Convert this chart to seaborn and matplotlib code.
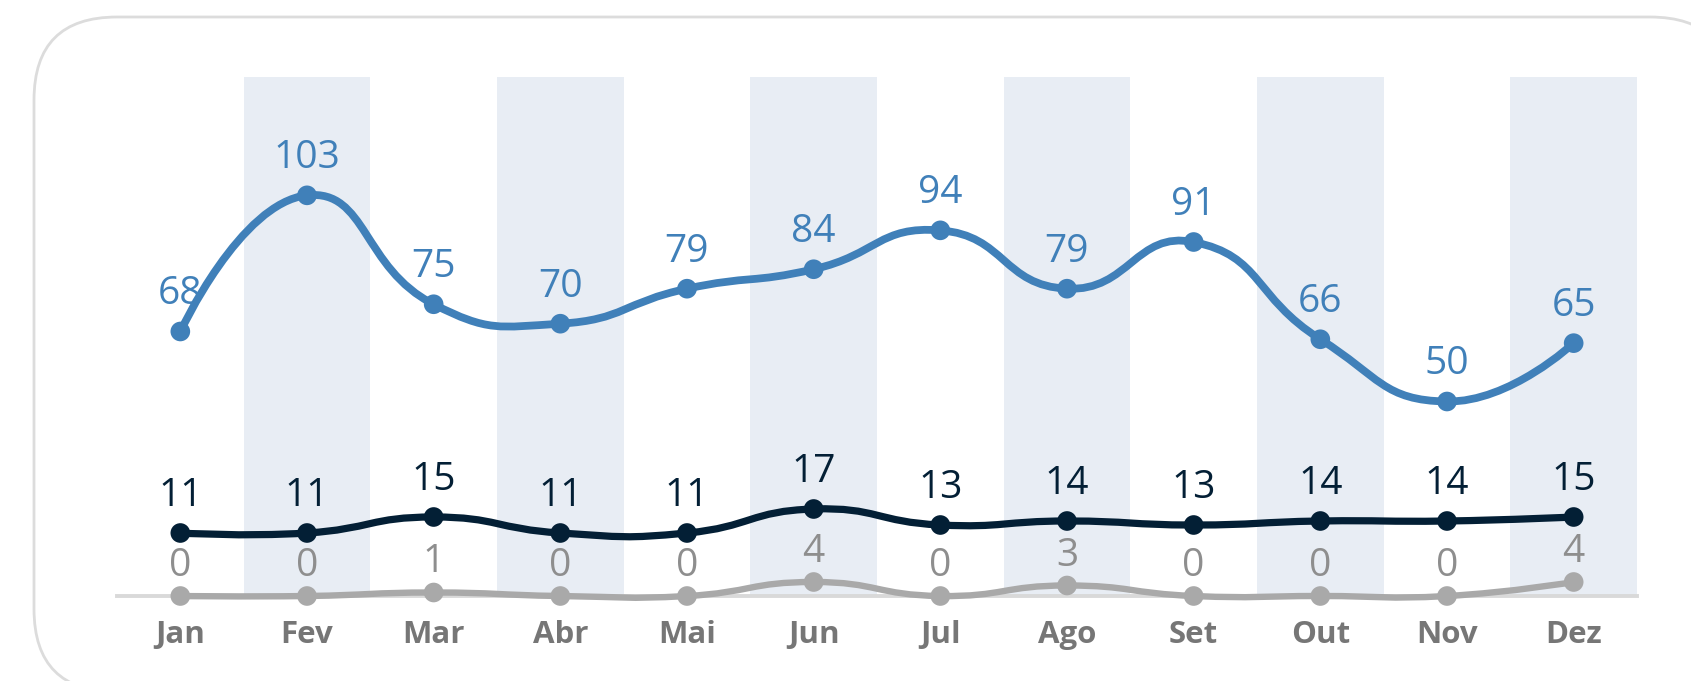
import numpy as np
import matplotlib
matplotlib.use("Agg")
import matplotlib.pyplot as plt
from matplotlib.path import Path
from matplotlib.patches import PathPatch, FancyBboxPatch
import seaborn as sns

# dados mensais
meses = ['Jan', 'Fev', 'Mar', 'Abr', 'Mai', 'Jun', 'Jul', 'Ago', 'Set', 'Out', 'Nov', 'Dez']
serie_azul = [68, 103, 75, 70, 79, 84, 94, 79, 91, 66, 50, 65]
serie_escura = [11, 11, 15, 11, 11, 17, 13, 14, 13, 14, 14, 15]
serie_cinza = [0, 0, 1, 0, 0, 4, 0, 3, 0, 0, 0, 4]

AZUL = '#4080b9'
ESCURO = '#031f35'
CINZA = '#a9a9a9'
CINZA_TXT = '#8e8e8e'
FAIXA = '#e8edf4'

sns.set_style("white")
plt.rcParams['font.family'] = ['Open Sans', 'DejaVu Sans']

W, H = 1691, 681
fig = plt.figure(figsize=(W / 100, H / 100), dpi=100)

# moldura arredondada
bg = fig.add_axes([0, 0, 1, 1])
bg.set_xlim(0, W)
bg.set_ylim(H, 0)
bg.axis('off')
bg.add_patch(FancyBboxPatch((34, 17), 1733 - 34, 692 - 17,
                            boxstyle='round,pad=0,rounding_size=83',
                            fc='white', ec='#dcdcdc', lw=2))

# area do grafico (em pixels)
x0, x1, ytop, ybot = 117, 1637, 77, 596
ax = fig.add_axes([x0 / W, (H - ybot) / H, (x1 - x0) / W, (ybot - ytop) / H])
ax.set_facecolor('none')
pos = np.arange(len(meses))
px_x = (x1 - x0) / len(meses)


def curva_suave(eixo, xs, ys, sy, cor, lw, suav=0.5):
    px = np.asarray(xs, float) * px_x
    py = np.asarray(ys, float) * sy
    n = len(px)
    cps = []
    for i in range(n):
        if i == 0 or i == n - 1:
            cps.append(((px[i], py[i]), (px[i], py[i])))
            continue
        vx = px[i + 1] - px[i - 1]
        vy = py[i + 1] - py[i - 1]
        d0 = np.hypot(px[i] - px[i - 1], py[i] - py[i - 1])
        d1 = np.hypot(px[i + 1] - px[i], py[i + 1] - py[i])
        r = d1 / (d0 + d1)
        antes = (px[i] - vx * suav * (1 - r), py[i] - vy * suav * (1 - r))
        depois = (px[i] + vx * suav * r, py[i] + vy * suav * r)
        cps.append((antes, depois))
    verts = [(px[0], py[0])]
    codes = [Path.MOVETO]
    for i in range(1, n):
        verts += [cps[i - 1][1], cps[i][0], (px[i], py[i])]
        codes += [Path.CURVE4] * 3
    verts = np.array(verts) / [px_x, sy]
    eixo.add_patch(PathPatch(Path(verts, codes), fill=False, ec=cor, lw=lw,
                             capstyle='round', joinstyle='round', clip_on=False, zorder=3))


def serie(eixo, valores, sy, ymin, cor, cor_txt, lw, off):
    altura = ybot - ytop
    eixo.set_ylim(ymin, ymin + altura / sy)
    eixo.set_xlim(-0.5, len(meses) - 0.5)
    curva_suave(eixo, pos, valores, sy, cor, lw)
    sns.scatterplot(x=pos, y=valores, ax=eixo, s=200, color=cor, edgecolor='none',
                    zorder=4, clip_on=False, legend=False)
    for i, v in enumerate(valores):
        eixo.annotate(str(v), (i, v), xytext=(0, off), textcoords='offset pixels',
                      ha='center', va='baseline', fontsize=28, color=cor_txt)


# faixas alternadas
for i in pos[1::2]:
    ax.axvspan(i - 0.5, i + 0.5, color=FAIXA, lw=0, zorder=0)

serie(ax, serie_azul, 3.89, 0, AZUL, AZUL, 5.6, 27)

ax2 = ax.twinx()
serie(ax2, serie_escura, 4.0, -4.75, ESCURO, ESCURO, 5.2, 27)

ax3 = ax.twinx()
serie(ax3, serie_cinza, 3.5, 0, CINZA, CINZA_TXT, 4.6, 20)

for a in (ax, ax2, ax3):
    for lado in ('top', 'left', 'right'):
        a.spines[lado].set_visible(False)
    a.set_yticks([])
    a.set_ylabel('')
for a in (ax2, ax3):
    a.spines['bottom'].set_visible(False)
    a.set_xticks([])

ax.spines['bottom'].set_color('#d9d9d9')
ax.spines['bottom'].set_linewidth(2.8)
ax.spines['bottom'].set_zorder(1)
ax.set_xticks(pos)
ax.set_xticklabels(meses, fontweight='bold', fontsize=22.5, color='#767676')
ax.tick_params(axis='x', length=0, pad=17)

fig.savefig('out.png', dpi=100)
